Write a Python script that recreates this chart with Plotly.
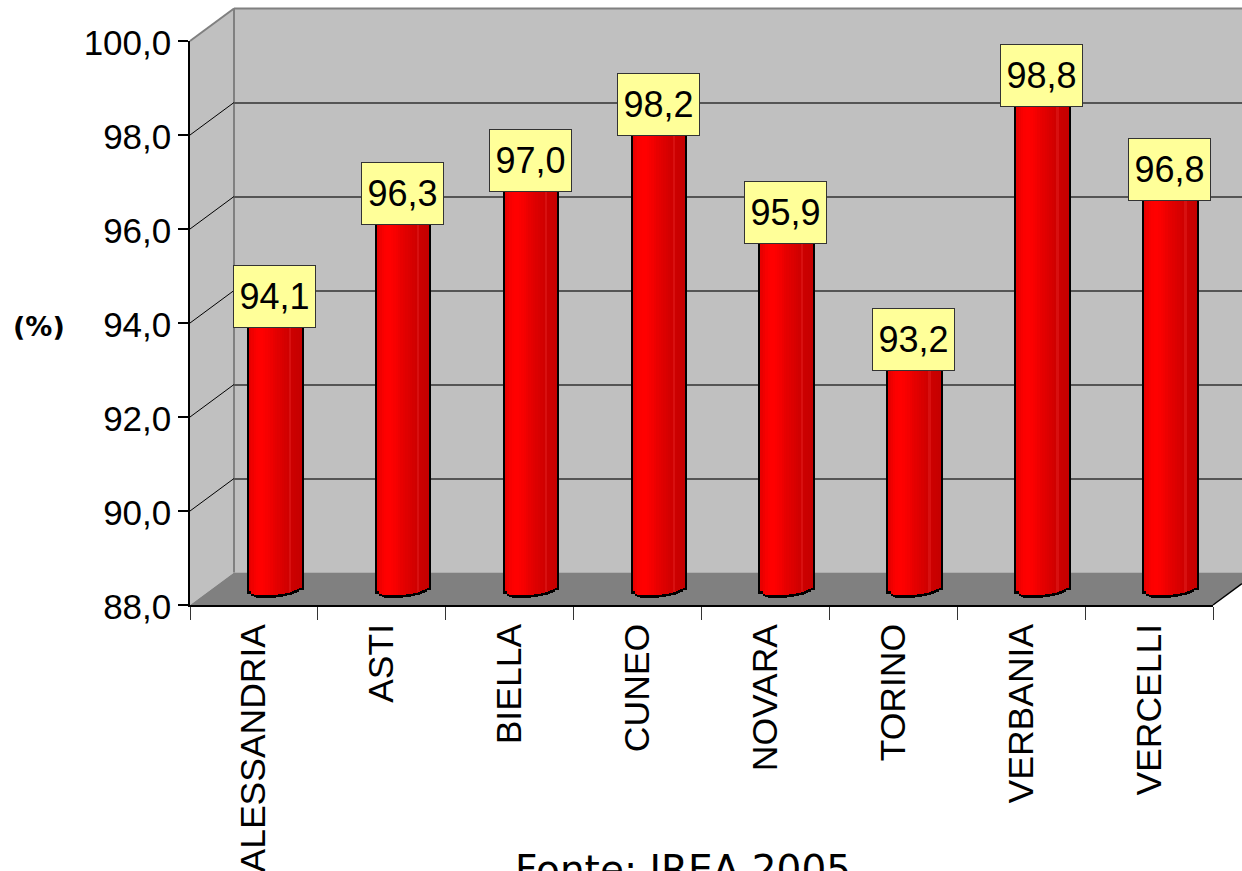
import plotly.graph_objects as go

# Provincial values (percent)
provinces = ["ALESSANDRIA", "ASTI", "BIELLA", "CUNEO", "NOVARA", "TORINO", "VERBANIA", "VERCELLI"]
values = [94.1, 96.3, 97.0, 98.2, 95.9, 93.2, 98.8, 96.8]
y_ticks = [88, 90, 92, 94, 96, 98, 100]

W, H = 1242, 871
LEFT, RIGHT = 190, 1213      # front plane of the plot box
Y88, Y100 = 605, 41
DEPTH_X, DEPTH_Y = 44, 32.5  # offset of the back wall
BAR_DX, BAR_DY = 20.5, 16.5  # offset of the plane the columns stand in
PX_PER_UNIT = (Y88 - Y100) / 12
CAT_W = (RIGHT - LEFT) / len(provinces)
BAR_W = 52
CAT_RANGE = [-0.5, len(provinces) - 0.5]


def px(x):
    return x / W


def py(y):
    return 1 - y / H


# Cylinder shading across the column: (colour, drop of the lower edge in px)
cyl_colors = ["#e80000", "#f00000", "#f80000", "#fd0000", "#ff0000", "#ff0000", "#fc0000", "#f80000",
              "#f40000", "#ee0000", "#e80000", "#e40000", "#e00000", "#dc0000", "#d80000", "#d40000",
              "#d00000", "#d81010", "#cc0000", "#ca0000", "#c80000", "#c60000"]
cyl_bottom = [2.0, 4.5, 5.5, 6.0, 6.0, 6.0, 6.0, 6.0, 6.0, 6.0, 6.0, 5.5, 5.0, 5.0, 4.5, 4.0, 3.5, 3.0, 2.0, 1.0, 0.0, -1.5]

fig = go.Figure()

# Front axes carry the tick marks and labels
fig.add_trace(go.Scatter(x=provinces, y=[None] * len(provinces), xaxis="x", yaxis="y", showlegend=False))
# Back wall axes carry the horizontal grid lines
fig.add_trace(go.Scatter(x=provinces, y=[None] * len(provinces), xaxis="x2", yaxis="y2", showlegend=False))

# Columns are painted as narrow vertical strips, outline first
n = len(cyl_colors)
strip = BAR_W / n


def add_strips(extra_w, extra_drop, colors):
    for i, color in enumerate(colors):
        start = -BAR_W / 2 + i * strip
        stop = start + strip + 0.6
        if i == 0:
            start -= extra_w
        if i == n - 1:
            stop += extra_w
        drop = cyl_bottom[i] + extra_drop
        fig.add_trace(go.Bar(
            x=provinces,
            base=values,
            y=[88 - v - drop / PX_PER_UNIT for v in values],
            offset=start / CAT_W,
            width=(stop - start) / CAT_W,
            marker=dict(color=color, line=dict(width=0)),
            xaxis="x3", yaxis="y3", showlegend=False, hoverinfo="skip",
        ))


add_strips(2, 2.5, ["#000000"] * n)
add_strips(0, 0, cyl_colors)

# Walls and floor
shapes = [
    dict(type="path", xref="paper", yref="paper", layer="below",
         path=f"M{px(LEFT)},{py(Y88)} L{px(LEFT)},{py(Y100)} L{px(LEFT + DEPTH_X)},{py(Y100 - DEPTH_Y)} "
              f"L{px(LEFT + DEPTH_X)},{py(Y88 - DEPTH_Y)} Z",
         fillcolor="#c0c0c0", line=dict(width=0)),
    dict(type="rect", xref="paper", yref="paper", layer="below",
         x0=px(LEFT + DEPTH_X), x1=1, y0=py(Y88 - DEPTH_Y), y1=py(Y100 - DEPTH_Y),
         fillcolor="#c0c0c0", line=dict(width=0)),
    dict(type="path", xref="paper", yref="paper", layer="below",
         path=f"M{px(LEFT)},{py(Y88)} L{px(LEFT + DEPTH_X)},{py(Y88 - DEPTH_Y)} L1,{py(Y88 - DEPTH_Y)} "
              f"L1,{py(Y88 - (W - RIGHT) * DEPTH_Y / DEPTH_X)} L{px(RIGHT)},{py(Y88)} Z",
         fillcolor="#808080", line=dict(width=0)),
    # Wall edges
    dict(type="line", xref="paper", yref="paper", layer="below",
         x0=px(LEFT + DEPTH_X), x1=px(LEFT + DEPTH_X), y0=py(Y88 - DEPTH_Y), y1=py(Y100 - DEPTH_Y),
         line=dict(color="#808080", width=2)),
    dict(type="line", xref="paper", yref="paper", layer="below",
         x0=px(LEFT), x1=px(LEFT + DEPTH_X), y0=py(Y100), y1=py(Y100 - DEPTH_Y),
         line=dict(color="#808080", width=2)),
    dict(type="line", xref="paper", yref="paper", layer="below",
         x0=px(LEFT + DEPTH_X), x1=1, y0=py(Y100 - DEPTH_Y), y1=py(Y100 - DEPTH_Y),
         line=dict(color="#808080", width=2)),
    dict(type="line", xref="paper", yref="paper",
         x0=px(RIGHT), x1=1, y0=py(Y88), y1=py(Y88 - (W - RIGHT) * DEPTH_Y / DEPTH_X),
         line=dict(color="#000000", width=1.5)),
]
# Grid lines running along the side wall
for t in y_ticks[1:-1]:
    y = Y88 - (t - 88) * PX_PER_UNIT
    shapes.append(dict(type="line", xref="paper", yref="paper", layer="below",
                       x0=px(LEFT), x1=px(LEFT + DEPTH_X), y0=py(y), y1=py(y - DEPTH_Y),
                       line=dict(color="#000000", width=1)))

# Value boxes above each column
annotations = [
    dict(x=p, y=v, xref="x3", yref="y3", yshift=5, text=f"{v:.1f}".replace(".", ","),
         showarrow=False, width=81, height=61, bgcolor="#ffff99", bordercolor="#333333", borderwidth=1,
         borderpad=0, align="center", valign="middle",
         font=dict(family="Liberation Sans", size=36, color="#000000"))
    for p, v in zip(provinces, values)
]
annotations += [
    dict(x=px(39), y=py(327), xref="paper", yref="paper", xanchor="center", text="<b>(%)</b>", showarrow=False,
         font=dict(family="DejaVu Sans", size=27, color="#000000")),
    dict(x=px(683), y=py(846), xref="paper", yref="paper", xanchor="center", yanchor="top",
         text="Fonte: IREA 2005", showarrow=False, borderpad=0,
         font=dict(family="DejaVu Sans", size=39, color="#000000")),
]

fig.update_layout(
    width=W, height=H, autosize=False,
    margin=dict(l=0, r=0, t=0, b=0),
    paper_bgcolor="#ffffff", plot_bgcolor="rgba(0,0,0,0)",
    barmode="overlay", bargap=0, separators=",.",
    showlegend=False,
    font=dict(family="Liberation Sans", color="#000000"),
    shapes=shapes, annotations=annotations,
    xaxis=dict(domain=[px(LEFT), px(RIGHT)], type="category", categoryorder="array", categoryarray=provinces,
               range=CAT_RANGE, tickson="boundaries", ticks="outside", ticklen=13, tickcolor="#333333", tickwidth=1,
               showline=True, linecolor="#000000", linewidth=1.5, showgrid=False, zeroline=False,
               tickangle=-90, tickfont=dict(family="Liberation Sans", size=35.5), ticklabelstandoff=3,
               automargin=False, anchor="y"),
    yaxis=dict(domain=[py(Y88), py(Y100)], range=[88, 100], tickvals=y_ticks, tickformat=".1f",
               ticks="outside", ticklen=10, tickcolor="#000000", tickwidth=1.5,
               showline=True, linecolor="#000000", linewidth=1.5, showgrid=False, zeroline=False,
               tickfont=dict(family="Liberation Sans", size=35), ticklabelshift=2,
               automargin=False, anchor="x"),
    xaxis2=dict(domain=[px(LEFT + DEPTH_X), 1], type="category", categoryorder="array", categoryarray=provinces,
                range=CAT_RANGE, visible=False, anchor="y2"),
    yaxis2=dict(domain=[py(Y88 - DEPTH_Y), py(Y100 - DEPTH_Y)], range=[88, 100], tickvals=y_ticks,
                showgrid=True, gridcolor="#555555", gridwidth=1.5, showticklabels=False, ticks="",
                showline=False, zeroline=False, anchor="x2"),
    xaxis3=dict(domain=[px(LEFT + BAR_DX), px(RIGHT + BAR_DX)], type="category", categoryorder="array",
                categoryarray=provinces, range=CAT_RANGE, visible=False, anchor="y3"),
    yaxis3=dict(domain=[py(Y88 - BAR_DY + 0.5 * PX_PER_UNIT), py(Y100 - BAR_DY)], range=[87.5, 100],
                visible=False, anchor="x3"),
)

fig.write_html("out.html")
